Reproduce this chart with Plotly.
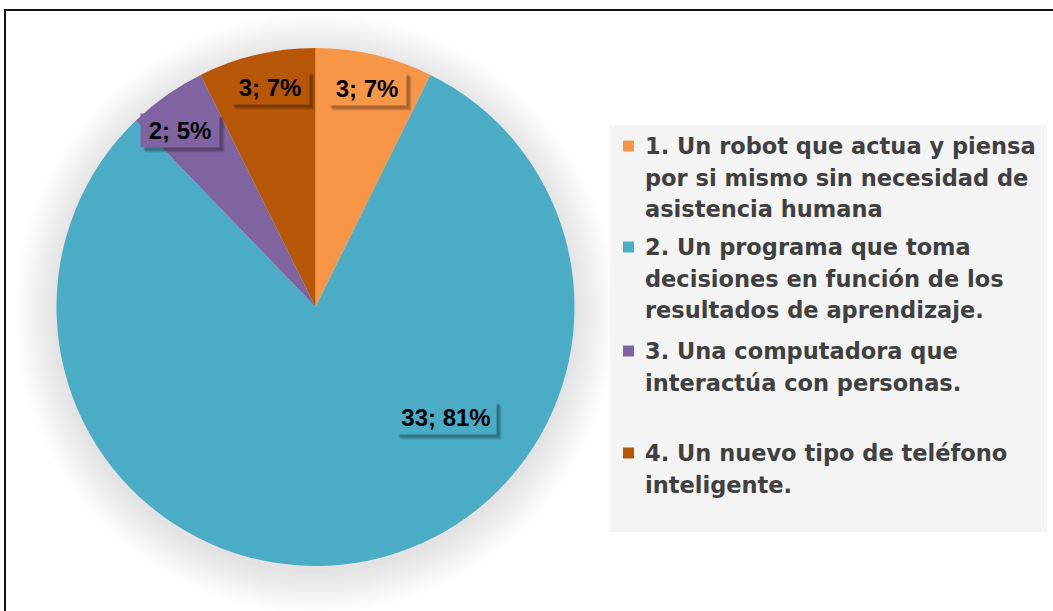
import math
import plotly.graph_objects as go

# ---- data ----
categories = [
    "1. Un robot que actua y piensa<br>por si mismo sin necesidad de<br>asistencia humana",
    "2. Un programa que toma<br>decisiones en función de los<br>resultados de aprendizaje.",
    "3. Una computadora que<br>interactúa con personas.",
    "4. Un nuevo tipo de teléfono<br>inteligente.",
]
values = [3, 33, 2, 3]
percent_labels = ["7%", "81%", "5%", "7%"]
colors = ["#F79646", "#4BACC6", "#8064A2", "#B65708"]

# ---- layout geometry (pixels, figure is 1053x611 with zero margins) ----
W, H = 1053, 611
cx, cy, R = 315.5, 307, 259


def px(x):
    return x / W


def py(y):
    return 1 - y / H


fig = go.Figure()
fig.add_trace(go.Pie(
    labels=[c.replace("<br>", " ") for c in categories],
    values=values,
    marker=dict(colors=colors, line=dict(width=0)),
    sort=False,
    direction="clockwise",
    rotation=0,
    textinfo="none",
    hoverinfo="label+value+percent",
    domain=dict(x=[px(cx - R), px(cx + R)], y=[py(cy + R), py(cy - R)]),
    showlegend=False,
))

shapes = []
# soft shadow around the pie
for i in range(14):
    r = R + 2 + i * 3
    oy = 6
    shapes.append(dict(type="circle", xref="paper", yref="paper", layer="below",
                       x0=px(cx - r), x1=px(cx + r), y0=py(cy + oy + r), y1=py(cy + oy - r),
                       fillcolor="rgba(0,0,0,0.008)", line=dict(width=0)))
# legend background box
shapes.append(dict(type="rect", xref="paper", yref="paper", layer="below",
                   x0=px(610), x1=px(1047), y0=py(532), y1=py(125),
                   fillcolor="#F4F4F4", line=dict(width=0)))
# outer frame
shapes.append(dict(type="rect", xref="paper", yref="paper", layer="above",
                   x0=px(5), x1=px(1070), y0=py(640), y1=py(10),
                   fillcolor="rgba(0,0,0,0)", line=dict(color="#111111", width=2)))

annotations = []

# data label placement: (radius fraction, angle override in degrees or None)
label_place = [(0.865, None), (0.66, 130.4), (0.86, -37.6), (0.865, -11.7)]
label_width = [72, 94, 72, 72]
total = sum(values)
start = 0.0
for i, v in enumerate(values):
    span = v / total * 360
    mid = start + span / 2
    start += span
    frac, ang = label_place[i]
    a = math.radians(ang if ang is not None else mid)
    lx = cx + frac * R * math.sin(a)
    ly = cy - frac * R * math.cos(a)
    text = f"{v}; {percent_labels[i]}"
    common = dict(xref="paper", yref="paper", xanchor="center", yanchor="middle",
                  showarrow=False, width=label_width[i], borderpad=3)
    # soft drop shadow (empty boxes)
    for off, alpha in ((5, 0.10), (4, 0.12), (3, 0.14)):
        annotations.append(dict(x=px(lx + off), y=py(ly + off), text="&nbsp;",
                                font=dict(family="Liberation Sans", size=24, color="rgba(0,0,0,0)", weight="bold"),
                                bgcolor=f"rgba(0,0,0,{alpha})", **common))
    annotations.append(dict(x=px(lx), y=py(ly), text=text,
                            font=dict(family="Liberation Sans", size=24, color="#000000", weight="bold"),
                            bgcolor=colors[i], **common))

# manual legend (one text line per annotation for exact line spacing)
legend_item_y = [146, 247, 351, 453]
line_step = 31.5
text_x = 643
for i, cat in enumerate(categories):
    y0 = legend_item_y[i]
    shapes.append(dict(type="rect", xref="paper", yref="paper",
                       x0=px(623), x1=px(634), y0=py(y0 + 5.5), y1=py(y0 - 5.5),
                       fillcolor=colors[i], line=dict(width=0)))
    for j, line in enumerate(cat.split("<br>")):
        annotations.append(dict(x=px(text_x), y=py(y0 + j * line_step), xref="paper", yref="paper",
                                xanchor="left", yanchor="middle", text=line, showarrow=False,
                                font=dict(family="DejaVu Sans", size=22.5, color="#404040", weight="bold")))

fig.update_layout(
    width=W, height=H,
    margin=dict(l=0, r=0, t=0, b=0),
    paper_bgcolor="white",
    plot_bgcolor="white",
    shapes=shapes,
    annotations=annotations,
    showlegend=False,
)

fig.write_html("out.html", config={"displayModeBar": False},
               post_script="document.body.style.margin='0px';")
